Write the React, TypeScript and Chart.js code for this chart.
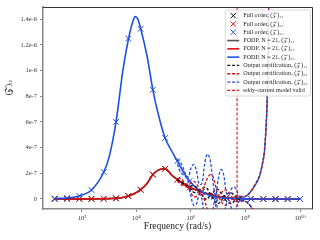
import React, { useEffect, useRef } from "react";
import { Chart, registerables } from "chart.js";

Chart.register(...registerables);

const FONT = '"Liberation Serif", "DejaVu Serif", serif';

// ---- Full order solutions (log10 of frequency, values) ----
const FULL_LOGF = [1.0, 1.45, 1.9, 2.35, 2.8, 3.25, 3.7, 4.15, 4.6, 5.05, 5.5, 5.95, 6.4, 6.85, 7.3, 7.75, 8.2, 8.65, 9.1, 9.55, 10.0];
const FULL_Z11 = [0, 0, 1e-9, 1e-9, 2e-9, 5e-9, 2.3e-8, 7.2e-8, 1.9e-7, 2.35e-7, 1.5e-7, 9e-8, 5.5e-8, 2.5e-8, 1e-8, 3e-9, 1e-9, 0, 0, 0, 0];
const FULL_Z22 = [0, 0, 1e-9, 1e-9, 2e-9, 5e-9, 2.3e-8, 7.2e-8, 1.9e-7, 2.35e-7, 1.5e-7, 9e-8, 5.5e-8, 2.5e-8, 1e-8, 3e-9, 1e-9, 0, 0, 0, 0];
const FULL_Z33 = [4e-9, 8e-9, 2.4e-8, 7e-8, 2.1e-7, 6.0e-7, 1.25e-6, 1.325e-6, 8.5e-7, 4.75e-7, 2.95e-7, 1.4e-7, 5.5e-8, 1.8e-8, 6e-9, 2e-9, 0, 0, 0, 0, 0];

// ---- PODP, N = 21 ----
const PODP_LOGF = [1.0, 1.45, 1.9, 2.35, 2.8, 3.0, 3.25, 3.5, 3.7, 3.85, 3.95, 4.05, 4.15, 4.4, 4.6, 4.8, 5.05, 5.3, 5.5, 5.75, 5.95, 6.2, 6.4, 6.6, 6.85, 7.1, 7.3, 7.55, 7.75, 8.0, 8.2, 8.65, 9.1, 9.55, 10.0];
const PODP_Z11 = [0, 0, 1e-9, 1e-9, 2e-9, 3e-9, 5e-9, 1.2e-8, 2.3e-8, 3.5e-8, 4.5e-8, 5.8e-8, 7.2e-8, 1.25e-7, 1.9e-7, 2.25e-7, 2.35e-7, 1.85e-7, 1.5e-7, 1.15e-7, 9e-8, 7e-8, 5.5e-8, 4e-8, 2.5e-8, 1.5e-8, 1e-8, 5e-9, 3e-9, 2e-9, 1e-9, 0, 0, 0, 0];
const PODP_Z22 = [0, 0, 1e-9, 1e-9, 2e-9, 3e-9, 5e-9, 1.2e-8, 2.3e-8, 3.5e-8, 4.5e-8, 5.8e-8, 7.2e-8, 1.25e-7, 1.9e-7, 2.25e-7, 2.35e-7, 1.85e-7, 1.5e-7, 1.15e-7, 9e-8, 7e-8, 5.5e-8, 4e-8, 2.5e-8, 1.5e-8, 1e-8, 5e-9, 3e-9, 2e-9, 1e-9, 0, 0, 0, 0];
const PODP_Z33 = [4e-9, 8e-9, 2.4e-8, 7e-8, 2.1e-7, 3.3e-7, 6.0e-7, 1.0e-6, 1.24e-6, 1.37e-6, 1.42e-6, 1.4e-6, 1.33e-6, 1.1e-6, 8.5e-7, 6.6e-7, 4.75e-7, 3.7e-7, 2.95e-7, 2.0e-7, 1.4e-7, 8.5e-8, 5.5e-8, 3.5e-8, 1.8e-8, 1e-8, 6e-9, 3e-9, 2e-9, 1e-9, 0, 0, 0, 0, 0];

// ---- Output certification bounds ----
const CERT_LOGF = [5.5, 5.6, 5.7, 5.8, 5.9, 6.0, 6.1, 6.2, 6.3, 6.4, 6.5, 6.6, 6.7, 6.8, 6.9, 7.0, 7.1, 7.2, 7.3, 7.4, 7.5, 7.6, 7.7, 7.8, 7.9, 8.0, 8.1, 8.2, 8.3, 8.4, 8.5, 8.6, 8.7, 8.8, 8.85, 8.9];
const CERT_Z11_UP = [1.53e-7, 1.43e-7, 1.3e-7, 1.13e-7, 1.02e-7, 1.0e-7, 1.02e-7, 9e-8, 7e-8, 8e-8, 9.3e-8, 8e-8, 4.4e-8, 4.8e-8, 7.3e-8, 7.4e-8, 4.5e-8, 2e-8, 3.5e-8, 4.8e-8, 4.6e-8, 2.4e-8, 9e-9, 1.2e-8, 1.6e-8, 2.1e-8, 3.7e-8, 6.3e-8, 9.4e-8, 1.3e-7, 1.75e-7, 2.55e-7, 3.9e-7, 8.2e-7, 1.55e-6, 3e-6];
const CERT_Z11_LO = [1.47e-7, 1.33e-7, 1.2e-7, 1.07e-7, 9e-8, 7e-8, 5.2e-8, 5e-8, 5.4e-8, 3e-8, 3e-9, 0, 2.4e-8, 8e-9, -2.7e-8, -3.6e-8, -1.5e-8, 4e-9, -1.5e-8, -3.2e-8, -3.4e-8, -1.6e-8, -3e-9, -8e-9, -1.4e-8, -1.9e-8, -3.5e-8, -6.1e-8, -9.2e-8, -1.3e-7, -1.75e-7, -2.55e-7, -3.9e-7, -8.2e-7, -1.55e-6, -3e-6];
const CERT_Z22_UP = [1.6e-7, 1.58e-7, 1.45e-7, 1.2e-7, 1.11e-7, 1.25e-7, 1.37e-7, 1.2e-7, 8.2e-8, 6.5e-8, 1.08e-7, 1.6e-7, 1.89e-7, 1.78e-7, 1.03e-7, 2.9e-8, 4.5e-8, 6.7e-8, 7e-8, 4.8e-8, 1.6e-8, 1.9e-8, 2.8e-8, 2.2e-8, 1.6e-8, 2.1e-8, 3.5e-8, 5.9e-8, 8.9e-8, 1.22e-7, 1.65e-7, 2.45e-7, 3.7e-7, 7.8e-7, 1.45e-6, 3e-6];
const CERT_Z22_LO = [1.4e-7, 1.18e-7, 1.05e-7, 1.0e-7, 8.1e-8, 4.5e-8, 1.7e-8, 2e-8, 4.2e-8, 4.5e-8, -1.2e-8, -8e-8, -1.21e-7, -1.22e-7, -5.7e-8, 9e-9, -1.5e-8, -4.3e-8, -5e-8, -3.2e-8, -4e-9, -1.1e-8, -2.2e-8, -1.8e-8, -1.4e-8, -1.9e-8, -3.3e-8, -5.7e-8, -8.7e-8, -1.22e-7, -1.65e-7, -2.45e-7, -3.7e-7, -7.8e-7, -1.45e-6, -3e-6];
const CERT_Z33_UP = [3.1e-7, 2.9e-7, 2.5e-7, 1.95e-7, 1.7e-7, 2.4e-7, 2.7e-7, 2.2e-7, 1.15e-7, 1.2e-7, 2.7e-7, 3.5e-7, 3.1e-7, 1.43e-7, 2.8e-8, 1.53e-7, 2.3e-7, 1.88e-7, 4.6e-8, 3.5e-8, 8.4e-8, 9.3e-8, 5.2e-8, 1.2e-8, 1.3e-8, 2.1e-8, 3.5e-8, 6e-8, 9e-8, 1.25e-7, 1.7e-7, 2.5e-7, 3.8e-7, 8e-7, 1.5e-6, 3e-6];
const CERT_Z33_LO = [2.7e-7, 2.15e-7, 1.9e-7, 1.75e-7, 1.35e-7, 2e-8, -5e-8, -4e-8, 3.5e-8, 0, -1.7e-7, -2.7e-7, -2.5e-7, -9.7e-8, 8e-9, -1.27e-7, -2.1e-7, -1.72e-7, -3.4e-8, -2.5e-8, -7.6e-8, -8.7e-8, -4.8e-8, -8e-9, -1.1e-8, -1.9e-8, -3.5e-8, -6e-8, -9e-8, -1.25e-7, -1.7e-7, -2.5e-7, -3.8e-7, -8e-7, -1.5e-6, -3e-6];

// eddy-current model validity limit (log10 of frequency)
const EDDY_LOGF = 7.69;

// ---- axes ----
const X_MIN_LOG = 0.57;
const X_MAX_LOG = 10.44;
const X_TICK_EXP = [2, 4, 6, 8, 10];
const X_TICK_LABELS = ["10\u00B2", "10\u2074", "10\u2076", "10\u2078", "10\u00B9\u2070"];
const Y_MIN = -7.8e-8;
const Y_MAX = 1.495e-6;
const Y_TICKS = [0, 2e-7, 4e-7, 6e-7, 8e-7, 1e-6, 1.2e-6, 1.4e-6];
const Y_TICK_LABELS = ["0", "2e-7", "4e-7", "6e-7", "8e-7", "1e-6", "1.2e-6", "1.4e-6"];
const X_TITLE = "Frequency (rad/s)";
const Y_TITLE = "(\uD835\uDCB5)\u1D62\u2C7C";

const LEGEND_LABELS = [
  "Full order, (\uD835\uDCB5)\u2081\u2081",
  "Full order, (\uD835\uDCB5)\u2082\u2082",
  "Full order, (\uD835\uDCB5)\u2083\u2083",
  "PODP, N = 21, (\uD835\uDCB5)\u2081\u2081",
  "PODP, N = 21, (\uD835\uDCB5)\u2082\u2082",
  "PODP, N = 21, (\uD835\uDCB5)\u2083\u2083",
  "Output certification, (\uD835\uDCB5)\u2081\u2081",
  "Output certification, (\uD835\uDCB5)\u2082\u2082",
  "Output certification, (\uD835\uDCB5)\u2083\u2083",
  "eddy-current model valid",
];

const BLACK = "#151515";
const RED = "#dc1212";
const BLUE = "#1f50e6";

const LEGEND_STYLE = [
  { color: BLACK, kind: "marker" },
  { color: RED, kind: "marker" },
  { color: BLUE, kind: "marker" },
  { color: "#555555", kind: "solid" },
  { color: RED, kind: "solid" },
  { color: BLUE, kind: "solid" },
  { color: BLACK, kind: "dash" },
  { color: RED, kind: "dash" },
  { color: BLUE, kind: "dash" },
  { color: RED, kind: "dash" },
];

const pts = (logf: number[], vals: number[]) =>
  logf.map((l, i) => ({ x: Math.pow(10, l), y: vals[i] }));

const DASH = [3, 1.8];

const legendPlugin = {
  id: "boxLegend",
  afterDraw(chart: any) {
    const { ctx, chartArea } = chart;
    ctx.save();
    ctx.font = `6.1px ${FONT}`;
    let tw = 0;
    for (const l of LEGEND_LABELS) tw = Math.max(tw, ctx.measureText(l).width);
    const rowH = 8.3;
    const w = 18 + tw + 3;
    const h = rowH * LEGEND_LABELS.length + 3;
    const x0 = chartArea.right - 1.5 - w;
    const y0 = chartArea.top + 3;
    ctx.beginPath();
    ctx.roundRect(x0, y0, w, h, 2);
    ctx.fillStyle = "rgba(255,255,255,0.85)";
    ctx.fill();
    ctx.strokeStyle = "#cfcfcf";
    ctx.lineWidth = 0.8;
    ctx.stroke();
    LEGEND_LABELS.forEach((label, i) => {
      const st = LEGEND_STYLE[i];
      const cy = y0 + 1.5 + rowH * (i + 0.5);
      const sx0 = x0 + 2;
      const sx1 = x0 + 14;
      ctx.strokeStyle = st.color;
      if (st.kind === "marker") {
        const cx = (sx0 + sx1) / 2;
        const r = 2.7;
        ctx.lineWidth = 1;
        ctx.setLineDash([]);
        ctx.beginPath();
        ctx.moveTo(cx - r, cy - r);
        ctx.lineTo(cx + r, cy + r);
        ctx.moveTo(cx + r, cy - r);
        ctx.lineTo(cx - r, cy + r);
        ctx.stroke();
      } else {
        ctx.lineWidth = st.kind === "solid" ? 1.6 : 1.3;
        ctx.setLineDash(st.kind === "solid" ? [] : DASH);
        ctx.beginPath();
        ctx.moveTo(sx0, cy);
        ctx.lineTo(sx1, cy);
        ctx.stroke();
      }
      ctx.setLineDash([]);
      ctx.fillStyle = "#222";
      ctx.textBaseline = "middle";
      ctx.textAlign = "left";
      ctx.fillText(label, x0 + 18, cy);
    });
    ctx.restore();
  },
};

const decorPlugin = {
  id: "decor",
  afterDatasetsDraw(chart: any) {
    const { ctx, chartArea, scales } = chart;
    const xs = scales.x.getPixelForValue(Math.pow(10, EDDY_LOGF));
    ctx.save();
    ctx.beginPath();
    ctx.rect(chartArea.left, chartArea.top, chartArea.right - chartArea.left, chartArea.bottom - chartArea.top);
    ctx.clip();
    ctx.strokeStyle = RED;
    ctx.lineWidth = 1.1;
    ctx.setLineDash(DASH);
    ctx.beginPath();
    ctx.moveTo(xs, chartArea.top);
    ctx.lineTo(xs, chartArea.bottom);
    ctx.stroke();
    ctx.restore();
  },
  afterDraw(chart: any) {
    const { ctx, chartArea } = chart;
    ctx.save();
    ctx.strokeStyle = "#333";
    ctx.lineWidth = 1;
    ctx.beginPath();
    ctx.moveTo(chartArea.left, chartArea.top + 0.5);
    ctx.lineTo(chartArea.right + 0.5, chartArea.top + 0.5);
    ctx.lineTo(chartArea.right + 0.5, chartArea.bottom);
    ctx.stroke();
    // y-axis title
    ctx.translate(9, chartArea.top + (chartArea.bottom - chartArea.top) * 0.4);
    ctx.rotate(-Math.PI / 2);
    ctx.font = `8px ${FONT}`;
    ctx.fillStyle = "#222";
    ctx.textAlign = "center";
    ctx.textBaseline = "middle";
    ctx.fillText(Y_TITLE, 0, 0);
    ctx.restore();
  },
};

export default function App() {
  const ref = useRef<HTMLCanvasElement>(null);
  useEffect(() => {
    if (!ref.current) return;
    const markers = (data: number[], color: string, order: number) => ({
      data: pts(FULL_LOGF, data),
      showLine: false,
      borderColor: color,
      backgroundColor: color,
      pointStyle: "crossRot",
      pointRadius: 4,
      pointBorderWidth: 1,
      order,
    });
    const solid = (data: number[], color: string, order: number) => ({
      data: pts(PODP_LOGF, data),
      borderColor: color,
      borderWidth: 1.6,
      pointRadius: 0,
      cubicInterpolationMode: "monotone",
      order,
    });
    const dashed = (data: number[], color: string, order: number) => ({
      data: pts(CERT_LOGF, data),
      borderColor: color,
      borderWidth: 1.3,
      borderDash: DASH,
      pointRadius: 0,
      tension: 0.35,
      order,
    });
    const chart = new Chart(ref.current, {
      type: "line",
      data: {
        datasets: [
          markers(FULL_Z11, BLACK, 12),
          markers(FULL_Z22, RED, 11),
          markers(FULL_Z33, BLUE, 10),
          solid(PODP_Z11, BLACK, 9),
          solid(PODP_Z22, RED, 8),
          solid(PODP_Z33, BLUE, 7),
          dashed(CERT_Z11_UP, BLACK, 6),
          dashed(CERT_Z11_LO, BLACK, 6),
          dashed(CERT_Z22_UP, RED, 5),
          dashed(CERT_Z22_LO, RED, 5),
          dashed(CERT_Z33_UP, BLUE, 4),
          dashed(CERT_Z33_LO, BLUE, 4),
        ] as any,
      },
      options: {
        animation: false,
        responsive: false,
        layout: { padding: { top: 7, right: 8, left: 0, bottom: 0 } },
        plugins: { legend: { display: false }, tooltip: { enabled: false } },
        scales: {
          x: {
            type: "logarithmic",
            min: Math.pow(10, X_MIN_LOG),
            max: Math.pow(10, X_MAX_LOG),
            afterBuildTicks: (s: any) => {
              s.ticks = X_TICK_EXP.map((e) => ({ value: Math.pow(10, e) }));
            },
            afterFit: (s: any) => {
              s.height = 31;
            },
            ticks: {
              autoSkip: false,
              maxRotation: 0,
              padding: 2,
              color: "#333",
              font: { family: FONT, size: 6.5 },
              callback: (_v: any, i: number) => X_TICK_LABELS[i],
            },
            grid: { drawOnChartArea: false, tickLength: 3, color: "#888" },
            border: { color: "#888", width: 1.5 },
            title: {
              display: true,
              text: X_TITLE,
              color: "#222",
              font: { family: FONT, size: 9.5 },
              padding: { top: 0, bottom: 7.5 },
            },
          },
          y: {
            type: "linear",
            min: Y_MIN,
            max: Y_MAX,
            afterBuildTicks: (s: any) => {
              s.ticks = Y_TICKS.map((v) => ({ value: v }));
            },
            afterFit: (s: any) => {
              s.width = 43;
            },
            ticks: {
              padding: 3,
              color: "#333",
              font: { family: FONT, size: 6.5 },
              callback: (_v: any, i: number) => Y_TICK_LABELS[i],
            },
            grid: { drawOnChartArea: false, tickLength: 3, color: "#888" },
            border: { color: "#888", width: 1.5 },
          },
        },
      },
      plugins: [decorPlugin, legendPlugin],
    } as any);
    return () => chart.destroy();
  }, []);
  return (
    <div style={{ position: "absolute", left: 0, top: 0, width: 320, height: 240, background: "#fff" }}>
      <canvas ref={ref} width={320} height={240} style={{ display: "block" }} />
    </div>
  );
}
